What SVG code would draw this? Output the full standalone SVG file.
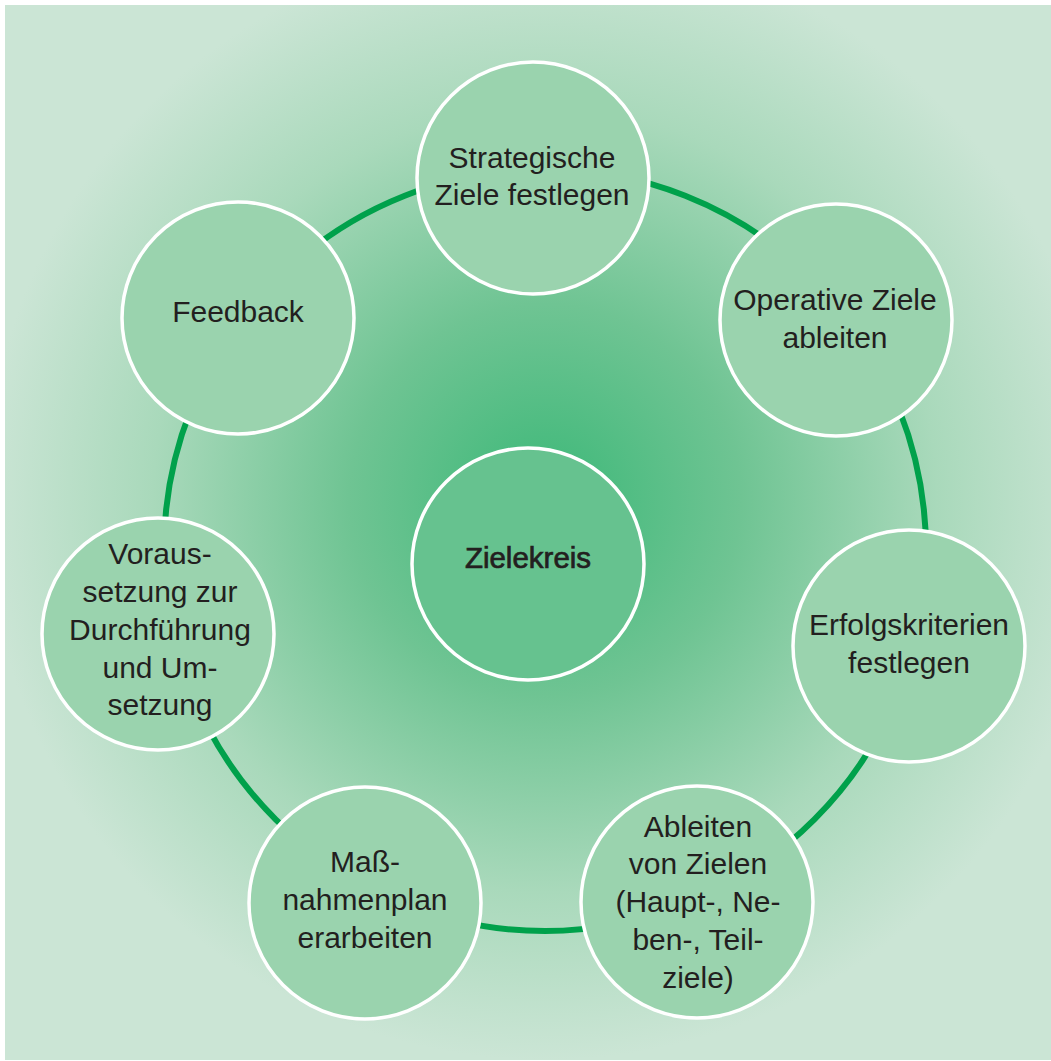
<svg xmlns="http://www.w3.org/2000/svg" width="1051" height="1061" viewBox="0 0 1051 1061">
<defs>
<radialGradient id="bg" gradientUnits="userSpaceOnUse" cx="545" cy="500" r="560">
<stop offset="0" stop-color="#3cb878"/>
<stop offset="0.35" stop-color="#6fc493"/>
<stop offset="0.7" stop-color="#a9d9bb"/>
<stop offset="1" stop-color="#cbe5d5"/>
</radialGradient>
<style>
.node{fill:#9ad3ae;stroke:#ffffff;stroke-width:3.5}
.center{fill:#66c28f;stroke:#ffffff;stroke-width:3.5}
.t{font-family:"Liberation Sans",Arial,sans-serif;font-size:30px;fill:#231f20;text-anchor:middle}
.tb{font-family:"Liberation Sans",Arial,sans-serif;font-size:29.5px;fill:#231f20;stroke:#231f20;stroke-width:0.7;text-anchor:middle}
.ring{fill:none;stroke:#00a14b;stroke-width:6}
</style>
</defs>
<rect x="0" y="0" width="1051" height="1061" fill="#ffffff"/>
<rect x="5" y="5" width="1046" height="1055" fill="url(#bg)"/>
<g id="connectors">
<circle class="ring" cx="545" cy="550" r="381"/>
</g>
<g id="node-center">
<circle class="center" cx="528" cy="564" r="116"/>
<text class="tb" x="528" y="568">Zielekreis</text>
</g>
<g id="node-strategische">
<circle class="node" cx="533" cy="178" r="116"/>
<text class="t" x="532" y="168">Strategische</text>
<text class="t" x="532" y="205">Ziele festlegen</text>
</g>
<g id="node-operative">
<circle class="node" cx="836" cy="320" r="116"/>
<text class="t" x="835" y="310">Operative Ziele</text>
<text class="t" x="835" y="348">ableiten</text>
</g>
<g id="node-erfolgskriterien">
<circle class="node" cx="909" cy="646" r="116"/>
<text class="t" x="909" y="635">Erfolgskriterien</text>
<text class="t" x="909" y="673">festlegen</text>
</g>
<g id="node-ableiten">
<circle class="node" cx="697" cy="902" r="116"/>
<text class="t" x="698" y="837">Ableiten</text>
<text class="t" x="698" y="874">von Zielen</text>
<text class="t" x="698" y="912">(Haupt-, Ne-</text>
<text class="t" x="698" y="950">ben-, Teil-</text>
<text class="t" x="698" y="988">ziele)</text>
</g>
<g id="node-massnahmenplan">
<circle class="node" cx="365" cy="903" r="116"/>
<text class="t" x="365" y="872">Maß-</text>
<text class="t" x="365" y="910">nahmenplan</text>
<text class="t" x="365" y="948">erarbeiten</text>
</g>
<g id="node-voraussetzung">
<circle class="node" cx="158" cy="634" r="116"/>
<text class="t" x="160" y="564">Voraus-</text>
<text class="t" x="160" y="602">setzung zur</text>
<text class="t" x="160" y="640">Durchführung</text>
<text class="t" x="160" y="678">und Um-</text>
<text class="t" x="160" y="715">setzung</text>
</g>
<g id="node-feedback">
<circle class="node" cx="238" cy="318" r="116"/>
<text class="t" x="238" y="322">Feedback</text>
</g>
</svg>
